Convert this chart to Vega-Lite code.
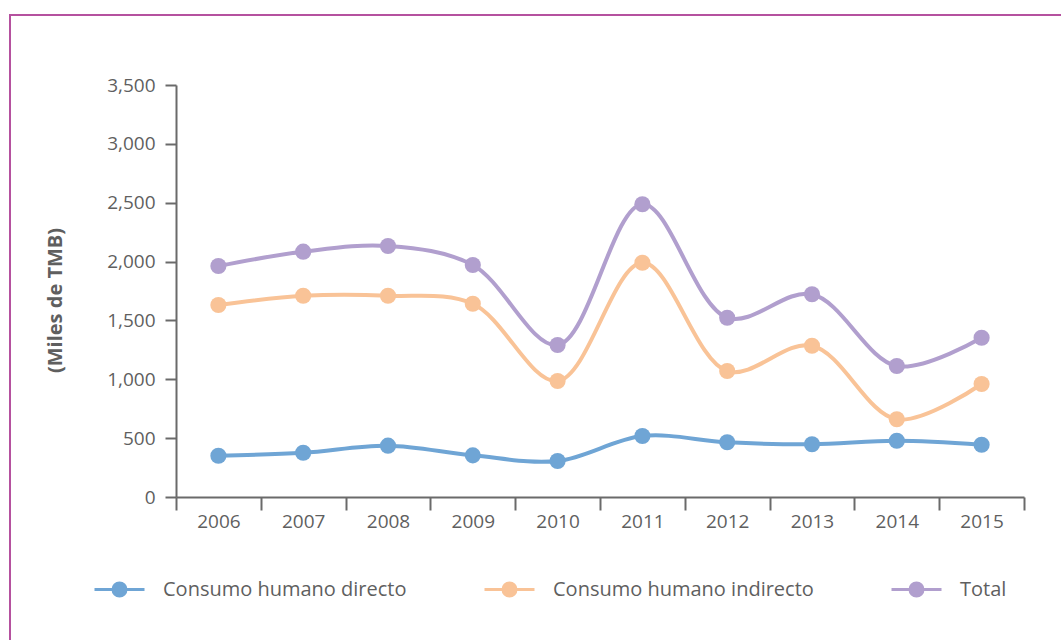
{
  "$schema": "https://vega.github.io/schema/vega-lite/v6.json",
  "autosize": "none",
  "width": 1054,
  "height": 628,
  "padding": {"left": 10, "top": 15, "right": -3, "bottom": -3},
  "background": "white",
  "config": {
    "font": "Open Sans",
    "view": {"stroke": "#b5519f", "strokeWidth": 2}
  },
  "data": {
    "values": [
      {"year": "2006", "serie": "Consumo humano directo", "value": 350},
      {"year": "2007", "serie": "Consumo humano directo", "value": 376},
      {"year": "2008", "serie": "Consumo humano directo", "value": 436},
      {"year": "2009", "serie": "Consumo humano directo", "value": 354},
      {"year": "2010", "serie": "Consumo humano directo", "value": 306},
      {"year": "2011", "serie": "Consumo humano directo", "value": 518},
      {"year": "2012", "serie": "Consumo humano directo", "value": 465},
      {"year": "2013", "serie": "Consumo humano directo", "value": 448},
      {"year": "2014", "serie": "Consumo humano directo", "value": 478},
      {"year": "2015", "serie": "Consumo humano directo", "value": 444},
      {"year": "2006", "serie": "Consumo humano indirecto", "value": 1631},
      {"year": "2007", "serie": "Consumo humano indirecto", "value": 1710},
      {"year": "2008", "serie": "Consumo humano indirecto", "value": 1710},
      {"year": "2009", "serie": "Consumo humano indirecto", "value": 1642},
      {"year": "2010", "serie": "Consumo humano indirecto", "value": 985},
      {"year": "2011", "serie": "Consumo humano indirecto", "value": 1990},
      {"year": "2012", "serie": "Consumo humano indirecto", "value": 1070},
      {"year": "2013", "serie": "Consumo humano indirecto", "value": 1285},
      {"year": "2014", "serie": "Consumo humano indirecto", "value": 660},
      {"year": "2015", "serie": "Consumo humano indirecto", "value": 960},
      {"year": "2006", "serie": "Total", "value": 1962},
      {"year": "2007", "serie": "Total", "value": 2084},
      {"year": "2008", "serie": "Total", "value": 2132},
      {"year": "2009", "serie": "Total", "value": 1971},
      {"year": "2010", "serie": "Total", "value": 1291},
      {"year": "2011", "serie": "Total", "value": 2487},
      {"year": "2012", "serie": "Total", "value": 1523},
      {"year": "2013", "serie": "Total", "value": 1722},
      {"year": "2014", "serie": "Total", "value": 1113},
      {"year": "2015", "serie": "Total", "value": 1353}
    ]
  },
  "mark": {
    "type": "line",
    "interpolate": "catmull-rom",
    "strokeWidth": 4,
    "point": {"filled": true, "size": 260, "opacity": 1}
  },
  "encoding": {
    "x": {
      "field": "year",
      "type": "ordinal",
      "scale": {"type": "band", "range": [166, 1014], "paddingInner": 0, "paddingOuter": 0},
      "axis": {
        "title": null,
        "orient": "bottom",
        "offset": -146,
        "tickBand": "extent",
        "tickSize": 13,
        "tickWidth": 2,
        "tickColor": "#6a6a6a",
        "domainColor": "#6a6a6a",
        "domainWidth": 2,
        "labelAngle": 0,
        "labelFontSize": 19,
        "labelColor": "#5f5f5f",
        "labelPadding": 2,
        "grid": false
      }
    },
    "y": {
      "field": "value",
      "type": "quantitative",
      "scale": {"domain": [0, 3500], "range": [482, 70], "nice": false},
      "axis": {
        "title": "(Miles de TMB)",
        "orient": "left",
        "offset": -166,
        "values": [0, 500, 1000, 1500, 2000, 2500, 3000, 3500],
        "format": ",.0f",
        "grid": false,
        "tickSize": 11,
        "tickWidth": 2,
        "tickColor": "#6a6a6a",
        "domainColor": "#6a6a6a",
        "domainWidth": 2,
        "labelFontSize": 19,
        "labelColor": "#5f5f5f",
        "labelPadding": 10,
        "titleFontSize": 20,
        "titleFontWeight": "bold",
        "titleColor": "#5f5f5f",
        "titleAngle": -90,
        "titleAlign": "center",
        "titleBaseline": "middle",
        "titleX": -121,
        "titleY": 285
      }
    },
    "color": {
      "field": "serie",
      "type": "nominal",
      "scale": {
        "domain": ["Consumo humano directo", "Consumo humano indirecto", "Total"],
        "range": ["#6fa5d5", "#f9c397", "#b19fce"]
      },
      "legend": {
        "title": null,
        "orient": "none",
        "legendX": 83,
        "legendY": 548,
        "direction": "horizontal",
        "columns": 3,
        "columnPadding": 71,
        "padding": 0,
        "symbolType": "M-1,0H1M0.26,0A0.26,0.26 0 1,1 -0.26,0A0.26,0.26 0 1,1 0.26,0Z",
        "symbolSize": 2500,
        "symbolStrokeWidth": 3,
        "labelFontSize": 20,
        "labelColor": "#5f5f5f",
        "labelOffset": 17,
        "labelLimit": 400,
        "encode": {
          "symbols": {
            "update": {
              "fill": {"scale": "color", "field": "value"},
              "stroke": {"scale": "color", "field": "value"},
              "strokeWidth": {"value": 3},
              "opacity": {"value": 1}
            }
          }
        }
      }
    }
  }
}
